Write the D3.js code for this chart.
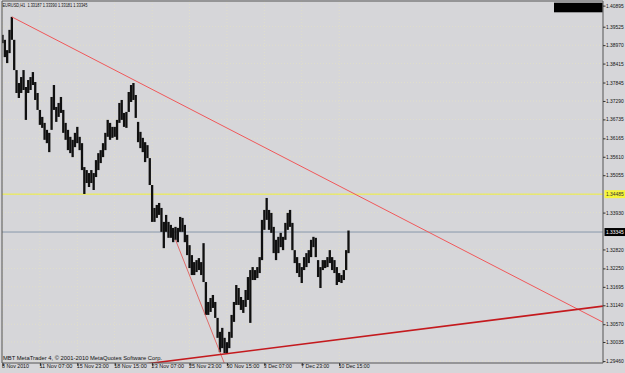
<!DOCTYPE html>
<html><head><meta charset="utf-8">
<script src="https://cdn.jsdelivr.net/npm/d3@7"></script>
<style>html,body{margin:0;padding:0;background:#d6d6d9;overflow:hidden}text{font-family:"Liberation Sans",Arial,sans-serif}</style>
</head><body>
<svg id="c" width="625" height="373"></svg>
<script>
// 4-hour aggregated bars (EURUSD)
const highs = [1.3928,1.3913,1.3882,1.3943,1.3982,1.3913,1.3822,1.3783,1.3801,1.3822,
1.3771,1.3792,1.3801,1.3816,1.3786,1.3753,1.3702,1.3681,1.3663,1.3642,
1.3633,1.3741,1.3777,1.3711,1.3723,1.3741,1.3702,1.3663,1.3642,1.3621,
1.3612,1.3633,1.3651,1.3621,1.3602,1.3530,1.3521,1.3512,1.3521,1.3512,
1.3551,1.3572,1.3581,1.3602,1.3633,1.3672,1.3663,1.3651,1.3651,1.3672,
1.3723,1.3732,1.3693,1.3696,1.3756,1.3777,1.3783,1.3747,1.3666,1.3636,
1.3618,1.3605,1.3596,1.3557,1.3476,1.3407,1.3416,1.3422,1.3407,1.3365,
1.3386,1.3365,1.3356,1.3347,1.3350,1.3347,1.3380,1.3377,1.3356,1.3326,
1.3295,1.3265,1.3244,1.3250,1.3256,1.3244,1.3301,1.3184,1.3124,1.3136,
1.3145,1.3124,1.3076,1.3034,1.3046,1.3016,1.3003,1.3034,1.3085,1.3124,
1.3175,1.3166,1.3139,1.3130,1.3160,1.3199,1.3220,1.3229,1.3220,1.3229,
1.3259,1.3371,1.3401,1.3437,1.3401,1.3392,1.3350,1.3311,1.3320,1.3332,
1.3320,1.3362,1.3392,1.3401,1.3362,1.3280,1.3259,1.3241,1.3229,1.3259,
1.3271,1.3280,1.3311,1.3320,1.3317,1.3250,1.3229,1.3250,1.3250,1.3259,
1.3280,1.3259,1.3250,1.3229,1.3211,1.3205,1.3220,1.3280,1.3339];
const lows = [1.3903,1.3861,1.3843,1.3873,1.3913,1.3822,1.3753,1.3738,1.3753,1.3762,
1.3672,1.3753,1.3762,1.3777,1.3732,1.3702,1.3657,1.3648,1.3612,1.3602,
1.3575,1.3642,1.3702,1.3666,1.3681,1.3693,1.3633,1.3612,1.3581,1.3572,
1.3560,1.3590,1.3602,1.3581,1.3521,1.3449,1.3482,1.3470,1.3482,1.3461,
1.3500,1.3521,1.3542,1.3560,1.3581,1.3621,1.3612,1.3618,1.3621,1.3612,
1.3663,1.3672,1.3651,1.3648,1.3696,1.3726,1.3732,1.3678,1.3605,1.3587,
1.3575,1.3545,1.3557,1.3476,1.3365,1.3365,1.3377,1.3386,1.3335,1.3286,
1.3335,1.3317,1.3317,1.3304,1.3311,1.3304,1.3335,1.3335,1.3304,1.3265,
1.3226,1.3205,1.3205,1.3214,1.3220,1.3205,1.3184,1.3085,1.3085,1.3094,
1.3106,1.3076,1.3016,1.2973,1.2985,1.2970,1.2970,1.2985,1.3016,1.3064,
1.3115,1.3115,1.3100,1.3091,1.3109,1.3130,1.3061,1.3190,1.3190,1.3196,
1.3211,1.3250,1.3341,1.3371,1.3341,1.3332,1.3271,1.3250,1.3271,1.3289,
1.3280,1.3311,1.3341,1.3350,1.3280,1.3241,1.3211,1.3199,1.3181,1.3220,
1.3229,1.3241,1.3259,1.3289,1.3259,1.3199,1.3166,1.3220,1.3226,1.3229,
1.3241,1.3220,1.3211,1.3175,1.3184,1.3181,1.3190,1.3220,1.3271];

const timeLabels = ["8 Nov 2010","11 Nov 07:00","15 Nov 23:00","18 Nov 15:00","23 Nov 07:00","25 Nov 23:00","30 Nov 15:00","3 Dec 07:00","7 Dec 23:00","10 Dec 15:00"];
const timeLabelBars = [0,16,32,48,64,80,96,112,128,144];
const priceTicks = [1.4016,1.39525,1.38970,1.38415,1.37845,1.37290,1.36735,1.36165,1.35610,1.35055,1.33930,1.32820,1.32250,1.31695,1.31140,1.30570,1.30035,1.29460];
const priceLabels = ["1.40895","1.39525","1.38970","1.38415","1.37845","1.37290","1.36735","1.36165","1.35610","1.35055","1.33930","1.32820","1.32250","1.31695","1.31140","1.30570","1.30035","1.29460"];
const titleText = "EURUSD,H1  1.33187 1.33390 1.33181 1.33345";
const copyrightText = "MBT MetaTrader 4, \u00A9 2001-2010 MetaQuotes Software Corp.";
const levelPrice = 1.34485, levelLabel = "1.34485";
const bidPrice = 1.33345, bidLabel = "1.33345";
// trend lines: anchor points [barIndex, price]
const trendDown = [[4,1.3982],[56,1.3793]];
const trendSteep = [[74,1.3311],[93,1.2973]];
const trendUp = [[95.5,1.2968],[200,1.3061]];

const L = 2, R = 603, T = 1, B = 363;
const svg = d3.select("#c");
const x = d3.scaleLinear().domain([0,148]).range([2.5,348.5]);
const y = d3.scaleLinear().domain([1.29493,1.40329]).range([360,0]);

svg.append("rect").attr("width",625).attr("height",373).attr("fill","#d6d6d9");
svg.append("defs").append("clipPath").attr("id","pc").append("rect")
  .attr("x",L).attr("y",T).attr("width",R-L).attr("height",B-T);

// faint dotted grid
const grid = svg.append("g").attr("clip-path","url(#pc)")
  .attr("stroke","#e2e0c6").attr("stroke-width",0.8).attr("stroke-dasharray","1,2");
grid.selectAll("line.h").data(priceTicks.slice(1).concat([levelPrice])).join("line")
  .attr("x1",L).attr("x2",R).attr("y1",d=>y(d)).attr("y2",d=>y(d));
grid.selectAll("line.v").data(timeLabelBars).join("line").attr("class","v")
  .attr("x1",d=>x(d)).attr("x2",d=>x(d)).attr("y1",T).attr("y2",B);

// horizontal level and bid line
svg.append("line").attr("x1",L).attr("x2",R).attr("y1",y(levelPrice)).attr("y2",y(levelPrice))
  .attr("stroke","#f0f03c").attr("stroke-width",1);
svg.append("line").attr("x1",L).attr("x2",R).attr("y1",y(bidPrice)).attr("y2",y(bidPrice))
  .attr("stroke","#8898ab").attr("stroke-width",1);

// price bars
const bars = svg.append("g").attr("clip-path","url(#pc)");
bars.selectAll("rect").data(highs).join("rect")
  .attr("x",(d,i)=>x(i)-1.15).attr("width",2.3)
  .attr("y",d=>y(d))
  .attr("height",(d,i)=>Math.max(1,y(lows[i])-y(d)))
  .attr("fill","#101010");

// trend lines
function ext(a, i){ const [i1,p1]=a[0],[i2,p2]=a[1]; return p1+(p2-p1)*(i-i1)/(i2-i1); }
const tl = svg.append("g").attr("clip-path","url(#pc)").attr("fill","none");
function drawLine(a, i0, i1, color, w){
  tl.append("line").attr("x1",x(i0)).attr("y1",y(ext(a,i0)))
    .attr("x2",x(i1)).attr("y2",y(ext(a,i1))).attr("stroke",color).attr("stroke-width",w);
}
drawLine(trendDown, trendDown[0][0], 300, "#f0585a", 1);
drawLine(trendSteep, trendSteep[0][0], 120, "#e0605e", 0.9);
drawLine(trendUp, -100, 300, "#c41a1e", 1.6);

// frame
svg.append("path").attr("d",`M${L},${B}V${T}H${R}V${B}H${L}`).attr("fill","none")
  .attr("stroke","#555").attr("stroke-width",1);

// right axis
const ay = svg.append("g").attr("transform",`translate(${R},0)`)
  .call(d3.axisRight(y).tickValues(priceTicks).tickFormat((d,i)=>priceLabels[i]).tickSize(2.5).tickPadding(0.5));
ay.select(".domain").remove();
ay.selectAll("line").attr("stroke","#333");
ay.selectAll("text").attr("font-size",4.9).attr("fill","#111");

// level label boxes
function box(p, label, bg, fg){
  const g = svg.append("g");
  g.append("rect").attr("x",R+1.5).attr("y",y(p)-4).attr("width",625-R-1.5).attr("height",8).attr("fill",bg);
  g.append("text").attr("x",R+3).attr("y",y(p)).attr("dy","0.34em").attr("font-size",4.9)
    .attr("fill",fg).text(label);
}
box(levelPrice, levelLabel, "#f5f53a", "#333");
box(bidPrice, bidLabel, "#000", "#fff");

// bottom axis
const ax = svg.append("g").attr("transform",`translate(0,${B})`)
  .call(d3.axisBottom(x).tickValues(timeLabelBars).tickFormat((d,i)=>timeLabels[i]).tickSize(3).tickPadding(1));
ax.select(".domain").remove();
ax.selectAll("line").attr("stroke","#333");
const xlw = [27,33,32,32.5,32.5,32.5,33,28,28,31];
ax.selectAll("text").attr("font-size",5.8).attr("fill","#111").attr("text-anchor","start")
  .attr("dx",-1).attr("dy","0.1em")
  .attr("textLength",(d,i)=>xlw[i]).attr("lengthAdjust","spacingAndGlyphs");

// title & copyright
svg.append("text").attr("x",2.5).attr("y",7).attr("font-size",5.6).attr("fill","#111")
  .attr("textLength",85).attr("lengthAdjust","spacingAndGlyphs").attr("xml:space","preserve").text(titleText);
svg.append("text").attr("x",3).attr("y",360).attr("font-size",5.8).attr("fill","#111")
  .attr("textLength",159).attr("lengthAdjust","spacingAndGlyphs").text(copyrightText);

// black box top right
svg.append("rect").attr("x",554).attr("y",2.7).attr("width",48.5).attr("height",9.6).attr("fill","#000");
</script>
</body></html>
